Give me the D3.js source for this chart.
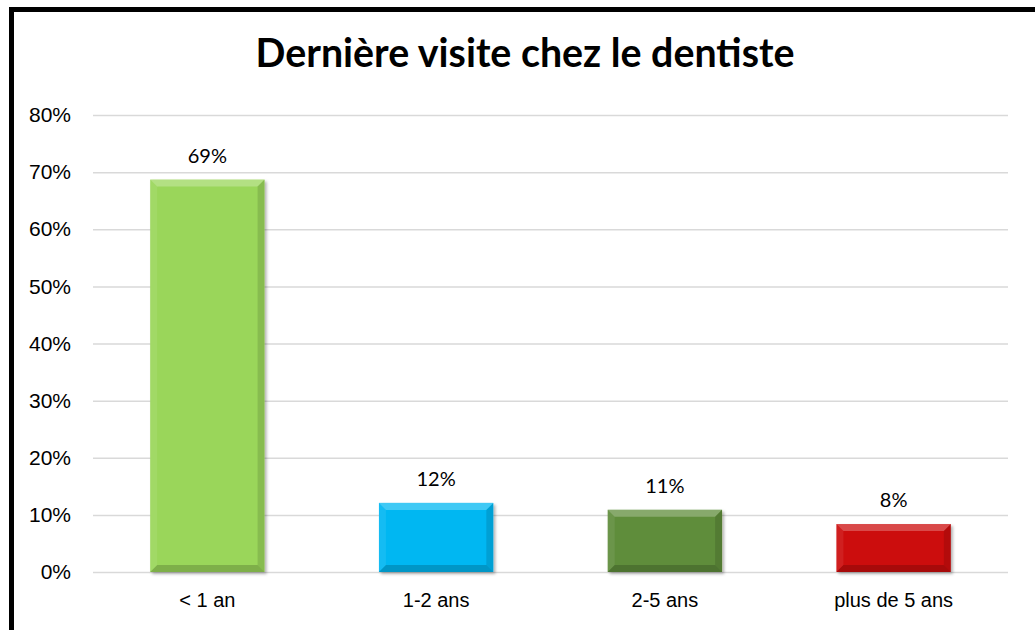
<!DOCTYPE html>
<html>
<head>
<meta charset="utf-8">
<script src="https://cdn.jsdelivr.net/npm/d3@7"></script>
<style>
  html, body { margin: 0; padding: 0; background: #fff; }
  svg { display: block; font-family: Lato, "Open Sans", sans-serif; }
</style>
</head>
<body>
<div id="chart"></div>
<script>
(function(){
// data
const categories = ["< 1 an", "1-2 ans", "2-5 ans", "plus de 5 ans"];
const values = [0.687, 0.121, 0.109, 0.084];
const colors = ["#9AD65A", "#05B7F2", "#5E8D3A", "#CC0A0A"];
const yTicks = [0, 0.1, 0.2, 0.3, 0.4, 0.5, 0.6, 0.7, 0.8];
const title = "Dernière visite chez le dentiste";

const W = 1035, H = 630;
const margin = { top: 115, right: 27, bottom: 58, left: 93 };
const width = W - margin.left - margin.right;
const height = H - margin.top - margin.bottom;

const svg = d3.select("#chart").append("svg")
    .attr("width", W)
    .attr("height", H);

// drop shadow for bars
const defs = svg.append("defs");
const f = defs.append("filter").attr("id", "shadow")
    .attr("x", "-10%").attr("y", "-10%").attr("width", "130%").attr("height", "130%");
f.append("feDropShadow").attr("dx", 2).attr("dy", 2).attr("stdDeviation", 1.5)
    .attr("flood-color", "#000").attr("flood-opacity", 0.3);

// outer frame (runs off right and bottom edge)
svg.append("rect")
    .attr("x", 11.5).attr("y", 9.5)
    .attr("width", 1100).attr("height", 700)
    .attr("fill", "none")
    .attr("stroke", "#000")
    .attr("stroke-width", 5);

const g = svg.append("g").attr("transform", `translate(${margin.left},${margin.top})`);

const x = d3.scaleBand().domain(categories).range([0, width]).paddingInner(0.5).paddingOuter(0.25);
const y = d3.scaleLinear().domain([0, 0.8]).range([height, 0]);

// y axis + gridlines
const yAxis = g.append("g")
    .call(d3.axisLeft(y).tickValues(yTicks).tickFormat(d3.format(".0%")).tickSize(-width).tickPadding(22));
yAxis.select(".domain").remove();
yAxis.selectAll(".tick line").attr("stroke", "#d9d9d9").attr("stroke-width", 1.5);
yAxis.selectAll(".tick text").attr("fill", "#000").style("font-size", "21px");

// x axis labels
const xAxis = g.append("g")
    .attr("transform", `translate(0,${height})`)
    .call(d3.axisBottom(x).tickSize(0).tickPadding(21));
xAxis.select(".domain").remove();
xAxis.selectAll(".tick text").attr("fill", "#000").style("font-size", "20px");

// bars
const bw = x.bandwidth();
const bev = 7;
const bars = g.selectAll(".bar").data(categories).enter().append("g").attr("class", "bar");

bars.append("rect")
    .attr("x", d => x(d))
    .attr("y", (d, i) => y(values[i]))
    .attr("width", bw)
    .attr("height", (d, i) => y(0) - y(values[i]))
    .attr("fill", (d, i) => colors[i])
    .attr("filter", "url(#shadow)");

// bevel edges
function bevel(d, i, side) {
  const x0 = x(d), x1 = x(d) + bw, y0 = y(values[i]), y1 = y(0);
  const b = Math.min(bev, (y1 - y0) / 2);
  if (side === "top") return [[x0, y0], [x1, y0], [x1 - b, y0 + b], [x0 + b, y0 + b]];
  if (side === "left") return [[x0, y0], [x0 + b, y0 + b], [x0 + b, y1 - b], [x0, y1]];
  if (side === "right") return [[x1, y0], [x1, y1], [x1 - b, y1 - b], [x1 - b, y0 + b]];
  return [[x0, y1], [x0 + b, y1 - b], [x1 - b, y1 - b], [x1, y1]];
}
const sides = [
  { s: "top", c: "#fff", o: 0.25 },
  { s: "left", c: "#fff", o: 0.08 },
  { s: "right", c: "#000", o: 0.12 },
  { s: "bottom", c: "#000", o: 0.18 }
];
sides.forEach(sd => {
  bars.append("polygon")
      .attr("points", (d, i) => bevel(d, i, sd.s).join(" "))
      .attr("fill", sd.c)
      .attr("fill-opacity", sd.o);
});

// value labels
g.selectAll(".val").data(categories).enter().append("text")
    .attr("class", "val")
    .attr("x", d => x(d) + bw / 2)
    .attr("y", (d, i) => y(values[i]) - 17)
    .attr("text-anchor", "middle")
    .style("font-size", "20px")
    .text((d, i) => d3.format(".0%")(values[i]));

// title
const t = svg.append("text")
    .attr("x", 525)
    .attr("y", 67)
    .attr("text-anchor", "middle")
    .style("font-weight", "bold")
    .style("font-size", "34px")
    .text(title);
const tw = t.node().getComputedTextLength();
t.style("font-size", (34 * 539 / tw) + "px");
})();
</script>
</body>
</html>
